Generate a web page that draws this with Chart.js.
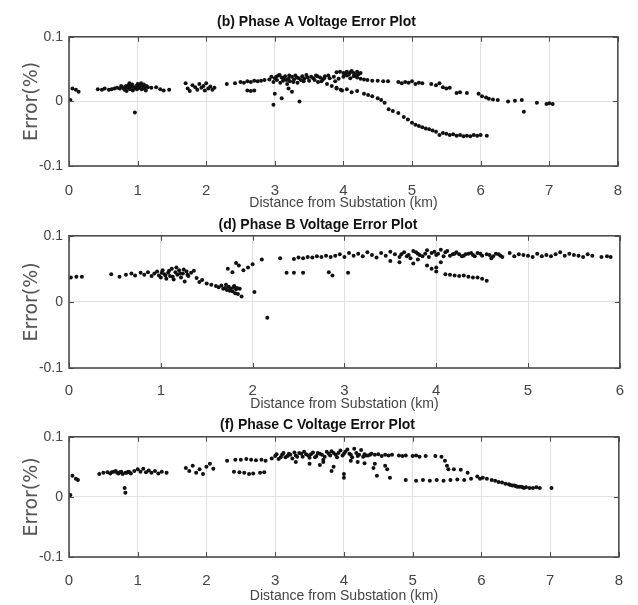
<!DOCTYPE html>
<html>
<head>
<meta charset="utf-8">
<script src="https://cdn.jsdelivr.net/npm/chart.js@4/dist/chart.umd.min.js"></script>
<style>
  body { margin: 0; background: #fff; }
  #wrap { position: relative; width: 638px; height: 605px; overflow: hidden; }
  canvas { position: absolute; left: 0; }
</style>
</head>
<body>
<div id="wrap">
  <canvas id="plotA" width="638" height="215" style="top:0px"></canvas>
  <canvas id="plotB" width="638" height="210" style="top:205px"></canvas>
  <canvas id="plotC" width="638" height="200" style="top:405px"></canvas>
</div>
<script>
// tick labels
var xTicksAC = [0, 1, 2, 3, 4, 5, 6, 7, 8];
var xTicksB = [0, 1, 2, 3, 4, 5, 6];
var yTicks = [-0.1, 0, 0.1];

// phase A (distance km, error %)
var phaseAx = [0.05,0.1,0.14,0.02,
  0.42,0.48,0.52,0.58,0.62,0.66,0.7,0.74,0.78,0.8,0.83,0.85,0.87,0.89,0.9,0.92,0.94,0.96,0.98,1.0,1.02,1.04,1.06,1.08,1.1,1.12,1.15,1.2,1.27,1.33,1.38,1.46,0.96,
  0.81,0.88,0.93,0.99,1.01,1.05,1.09,0.76,0.84,1.13,
  1.7,1.73,1.76,1.8,1.84,1.87,1.9,1.93,1.96,1.98,2.0,2.03,2.06,2.09,2.12,
  2.3,2.42,2.5,2.55,2.6,2.65,2.7,2.75,2.8,2.85,2.6,2.65,2.7,
  2.92,2.95,2.98,3.0,3.03,3.05,3.08,3.1,3.12,3.15,3.18,3.2,3.22,3.25,3.28,3.3,3.33,3.35,3.38,3.4,3.43,3.46,3.5,3.53,3.56,3.6,3.63,3.66,3.7,3.73,3.76,3.8,3.83,3.86,3.9,3.93,3.96,
  3.02,3.07,3.13,3.17,3.21,3.27,3.32,3.42,3.48,3.58,3.62,3.68,3.72,3.78,3.88,
  2.98,3.1,3.0,3.25,3.36,3.2,
  3.9,3.95,4.0,4.05,4.1,4.15,4.2,4.25,4.0,4.05,4.1,4.15,4.2,4.25,4.3,4.08,4.18,4.02,4.12,4.22,
  4.35,4.42,4.5,4.58,4.65,4.8,4.85,4.9,4.95,5.0,5.05,5.1,5.15,5.28,5.35,5.4,5.45,5.5,5.55,5.65,5.7,5.8,5.97,6.02,6.08,6.12,6.18,6.25,6.4,6.5,6.6,6.63,6.82,6.96,7.0,7.05,
  3.9,3.98,4.05,4.12,4.2,4.3,4.36,4.42,4.5,4.55,4.6,4.66,4.72,4.8,4.88,4.94,5.0,5.05,5.1,5.15,5.2,5.25,5.3,5.35,5.4,5.45,5.5,5.55,5.6,5.65,5.7,5.75,5.8,5.85,5.9,5.95,6.0,6.09];
var phaseAy = [0.02,0.018,0.015,0.002,
  0.019,0.018,0.02,0.018,0.019,0.02,0.021,0.02,0.022,0.02,0.024,0.021,0.025,0.019,0.023,0.026,0.022,0.02,0.024,0.027,0.021,0.025,0.019,0.023,0.02,0.017,0.022,0.021,0.022,0.019,0.017,0.018,-0.017,
  0.018,0.028,0.017,0.019,0.023,0.028,0.026,0.024,0.016,0.024,
  0.028,0.02,0.016,0.025,0.022,0.018,0.027,0.021,0.024,0.017,0.028,0.02,0.023,0.018,0.021,
  0.027,0.028,0.03,0.029,0.031,0.03,0.032,0.031,0.032,0.033,0.017,0.016,0.017,
  0.034,0.038,0.03,0.036,0.033,0.04,0.029,0.037,0.032,0.039,0.027,0.035,0.031,0.038,0.034,0.04,0.029,0.036,0.033,0.039,0.035,0.041,0.032,0.038,0.036,0.04,0.03,0.037,0.034,0.039,0.027,0.036,0.024,0.038,0.021,0.035,0.018,
  0.038,0.041,0.035,0.033,0.04,0.03,0.037,0.031,0.037,0.033,0.039,0.031,0.036,0.04,0.031,
  -0.005,0.005,0.012,0.015,0.0,0.02,
  0.045,0.046,0.044,0.046,0.045,0.044,0.046,0.044,0.038,0.04,0.036,0.039,0.037,0.035,0.034,0.042,0.041,0.043,0.047,0.042,
  0.033,0.032,0.032,0.031,0.031,0.03,0.028,0.03,0.029,0.031,0.027,0.029,0.028,0.027,0.025,0.028,0.022,0.02,0.021,0.013,0.014,0.013,0.012,0.008,0.006,0.004,0.003,0.002,0.0,0.001,0.002,-0.016,-0.002,-0.004,-0.003,-0.004,
  0.02,0.017,0.019,0.014,0.016,0.012,0.01,0.008,0.005,0.002,-0.002,-0.012,-0.015,-0.018,-0.024,-0.028,-0.033,-0.036,-0.038,-0.04,-0.042,-0.043,-0.045,-0.047,-0.052,-0.049,-0.05,-0.052,-0.051,-0.053,-0.052,-0.054,-0.053,-0.054,-0.052,-0.053,-0.052,-0.053];

// phase B
var phaseBx = [0.02,0.08,0.14,
  0.46,0.55,0.62,0.68,0.72,0.78,0.82,0.86,0.9,0.93,0.96,0.98,1.0,1.02,1.04,1.06,1.08,1.1,1.12,1.14,1.16,1.18,1.2,1.22,1.24,1.26,1.28,1.3,1.33,1.36,1.39,1.42,1.45,1.5,1.55,1.6,1.63,1.66,1.7,1.72,1.74,1.76,1.78,1.8,1.82,1.84,1.86,1.88,
  1.01,1.05,1.09,1.13,1.17,1.21,1.25,1.29,1.68,1.71,1.75,1.79,1.81,1.83,
  1.73,1.78,1.82,1.85,1.9,1.95,2.0,2.02,2.1,2.16,
  2.3,2.45,2.5,2.55,2.6,2.65,2.7,2.75,2.8,2.85,2.37,2.45,2.55,2.83,2.87,
  2.9,2.95,3.0,3.04,3.05,3.1,3.15,3.2,3.25,3.3,3.35,3.4,3.45,3.5,3.55,3.6,3.65,3.7,3.75,3.8,3.85,3.9,3.95,4.0,4.05,4.1,4.15,4.2,4.25,4.3,4.35,4.4,4.45,4.5,4.55,4.6,4.65,4.7,4.8,4.85,4.9,5.0,5.05,5.1,5.15,5.2,5.3,5.35,5.4,5.5,5.6,5.8,5.86,5.9,
  3.62,3.68,3.72,3.78,3.82,3.88,3.92,3.98,4.02,4.08,4.12,4.18,4.22,4.28,4.32,4.38,4.42,4.48,4.58,4.62,4.68,4.72,4.95,5.25,5.45,5.55,5.65,5.7,
  3.5,3.6,3.75,3.8,3.9,3.95,4.0,4.05,
  4.0,4.1,4.15,4.2,4.25,4.3,4.35,4.4,4.45,4.5,4.55];
var phaseBy = [0.037,0.038,0.038,
  0.042,0.038,0.041,0.043,0.04,0.044,0.041,0.045,0.039,0.043,0.046,0.04,0.037,0.048,0.042,0.035,0.044,0.039,0.05,0.034,0.045,0.041,0.048,0.037,0.043,0.031,0.046,0.039,0.044,0.047,0.036,0.03,0.033,0.028,0.026,0.024,0.022,0.025,0.021,0.018,0.023,0.02,0.016,0.024,0.019,0.012,0.02,0.008,
  0.044,0.04,0.047,0.038,0.052,0.043,0.049,0.041,0.02,0.026,0.017,0.022,0.013,0.021,
  0.05,0.045,0.059,0.055,0.048,0.052,0.057,0.015,0.064,-0.024,
  0.066,0.065,0.067,0.066,0.068,0.067,0.069,0.068,0.07,0.068,0.044,0.044,0.044,0.045,0.04,
  0.07,0.072,0.068,0.044,0.074,0.07,0.073,0.069,0.075,0.071,0.067,0.074,0.07,0.076,0.072,0.068,0.075,0.071,0.077,0.073,0.069,0.078,0.074,0.071,0.079,0.075,0.07,0.073,0.072,0.07,0.073,0.071,0.074,0.07,0.072,0.066,0.073,0.07,0.074,0.069,0.072,0.07,0.068,0.073,0.069,0.071,0.072,0.075,0.07,0.071,0.068,0.068,0.069,0.068,
  0.072,0.069,0.066,0.075,0.071,0.073,0.068,0.076,0.073,0.069,0.077,0.072,0.075,0.069,0.072,0.074,0.069,0.073,0.071,0.069,0.072,0.068,0.071,0.069,0.073,0.07,0.072,0.07,
  0.062,0.06,0.058,0.064,0.055,0.05,0.052,0.06,
  0.046,0.042,0.041,0.04,0.039,0.04,0.038,0.037,0.037,0.035,0.032];

// phase C
var phaseCx = [0.05,0.1,0.13,0.02,
  0.44,0.5,0.56,0.6,0.65,0.7,0.74,0.78,0.82,0.86,0.9,0.81,0.82,0.95,1.0,1.04,1.08,1.12,1.16,1.2,1.25,1.3,1.35,1.42,
  0.62,0.68,0.72,0.76,0.84,0.88,
  1.7,1.75,1.8,1.85,1.9,1.95,2.0,2.05,2.1,
  2.3,2.42,2.5,2.58,2.65,2.72,2.8,2.86,2.4,2.48,2.55,2.62,2.68,2.78,2.84,
  2.95,3.0,3.05,3.1,3.15,3.2,3.25,3.3,3.35,3.4,3.45,3.5,3.55,3.6,3.65,3.7,3.75,3.8,3.85,3.9,3.95,3.3,3.5,3.65,3.85,3.7,
  3.02,3.08,3.12,3.18,3.22,3.28,3.32,3.38,3.42,3.48,3.52,3.58,3.62,3.68,3.72,3.78,3.82,3.88,3.92,3.98,4.02,4.08,4.12,4.18,4.22,4.28,4.32,4.38,
  4.0,4.05,4.1,4.15,4.2,4.25,4.3,4.35,4.4,4.45,4.5,4.55,4.6,4.65,4.7,4.8,4.85,4.9,5.0,5.05,5.1,5.19,5.33,5.42,
  4.1,4.2,4.3,4.45,4.6,
  3.82,4.0,4.0,4.43,4.48,4.67,4.63,
  5.47,5.5,5.52,5.6,5.7,
  4.9,5.05,5.15,5.25,5.35,5.45,5.55,5.65,5.75,5.8,5.85,
  5.94,5.98,6.02,6.08,6.15,6.2,6.25,6.3,6.35,6.4,6.45,6.5,6.55,6.6,6.65,6.7,6.75,6.8,6.85,7.02,
  6.42,6.48,6.52,6.58,6.62];
var phaseCy = [0.035,0.03,0.028,0.003,
  0.038,0.04,0.041,0.039,0.042,0.04,0.041,0.038,0.04,0.042,0.039,0.015,0.007,0.043,0.046,0.042,0.047,0.041,0.044,0.04,0.043,0.039,0.042,0.04,
  0.041,0.043,0.039,0.042,0.04,0.041,
  0.048,0.043,0.052,0.04,0.046,0.038,0.05,0.055,0.047,
  0.06,0.062,0.062,0.063,0.062,0.061,0.062,0.06,0.042,0.041,0.04,0.038,0.039,0.04,0.041,
  0.064,0.068,0.063,0.07,0.066,0.072,0.064,0.069,0.073,0.067,0.071,0.065,0.074,0.068,0.072,0.062,0.075,0.069,0.073,0.066,0.077,0.058,0.055,0.053,0.05,0.058,
  0.071,0.066,0.073,0.068,0.07,0.074,0.067,0.072,0.075,0.069,0.071,0.066,0.073,0.07,0.067,0.072,0.076,0.07,0.073,0.069,0.075,0.072,0.066,0.073,0.07,0.067,0.069,0.07,
  0.072,0.079,0.07,0.08,0.068,0.078,0.071,0.069,0.072,0.07,0.071,0.068,0.07,0.069,0.07,0.069,0.068,0.069,0.068,0.069,0.067,0.068,0.068,0.067,
  0.06,0.058,0.056,0.055,0.052,
  0.043,0.038,0.032,0.048,0.035,0.032,0.046,
  0.06,0.052,0.046,0.046,0.045,
  0.028,0.027,0.028,0.027,0.028,0.027,0.028,0.029,0.028,0.04,0.03,
  0.034,0.03,0.032,0.03,0.028,0.027,0.025,0.024,0.022,0.021,0.019,0.018,0.017,0.016,0.016,0.015,0.015,0.016,0.015,0.015,
  0.02,0.019,0.017,0.017,0.015];

var sans = "'Liberation Sans', Arial, sans-serif";

// box round the plot and small ticks pointing inwards (matlab style)
var boxPlugin = {
  id: 'box',
  afterDraw: function (chart) {
    var ctx = chart.ctx, a = chart.chartArea;
    var xs = chart.scales.x, ys = chart.scales.y;
    ctx.save();
    ctx.strokeStyle = '#4d4d4d';
    ctx.lineWidth = 1;
    ctx.beginPath();
    xs.ticks.forEach(function (t) {
      var px = Math.round(xs.getPixelForValue(t.value)) + 0.5;
      ctx.moveTo(px, a.top); ctx.lineTo(px, a.top + 5);
      ctx.moveTo(px, a.bottom); ctx.lineTo(px, a.bottom - 5);
    });
    ys.ticks.forEach(function (t) {
      var py = Math.round(ys.getPixelForValue(t.value)) + 0.5;
      ctx.moveTo(a.left, py); ctx.lineTo(a.left + 5, py);
      ctx.moveTo(a.right, py); ctx.lineTo(a.right - 5, py);
    });
    ctx.stroke();
    ctx.lineWidth = 1.6;
    ctx.strokeRect(a.left, a.top, a.right - a.left, a.bottom - a.top);
    ctx.restore();
  }
};

function makePlot(id, title, xs, ys, xTicks, lay) {
  var pts = xs.map(function (x, i) { return {x: x, y: ys[i]}; });
  var ctx = document.getElementById(id).getContext('2d');
  return new Chart(ctx, {
    type: 'scatter',
    data: {
      datasets: [{
        data: pts,
        backgroundColor: '#111',
        borderWidth: 0,
        pointRadius: 2,
        pointHoverRadius: 2
      }]
    },
    options: {
      responsive: false,
      animation: false,
      events: [],
      layout: { padding: { left: 0, right: lay.right, top: 0, bottom: 0 } },
      plugins: {
        legend: { display: false },
        tooltip: { enabled: false },
        title: {
          display: true,
          text: title,
          color: '#111',
          font: { family: sans, size: 14, weight: 'bold', lineHeight: 1.2 },
          padding: { top: lay.titleTop, bottom: lay.titleBottom }
        }
      },
      scales: {
        x: {
          type: 'linear',
          min: xTicks[0],
          max: xTicks[xTicks.length - 1],
          afterBuildTicks: function (s) { s.ticks = xTicks.map(function (v) { return {value: v}; }); },
          afterFit: function (s) { s.height = lay.xHeight; },
          border: { display: false },
          grid: { color: '#e2e2e2', drawTicks: false },
          ticks: {
            padding: lay.tickPad,
            color: '#444',
            font: { family: sans, size: 15 },
            callback: function (v) { return String(v); }
          },
          title: {
            display: true,
            text: 'Distance from Substation (km)',
            color: '#444',
            font: { family: sans, size: 14, lineHeight: 1.2 },
            padding: { top: 0, bottom: lay.xTitleBottom }
          }
        },
        y: {
          type: 'linear',
          min: yTicks[0],
          max: yTicks[yTicks.length - 1],
          afterBuildTicks: function (s) { s.ticks = yTicks.map(function (v) { return {value: v}; }); },
          afterFit: function (s) { s.width = 69; },
          border: { display: false },
          grid: { color: '#e2e2e2', drawTicks: false },
          ticks: {
            padding: 6,
            color: '#444',
            font: { family: sans, size: 14 },
            callback: function (v) { return String(v); }
          },
          title: {
            display: true,
            text: 'Error(%)',
            color: '#555',
            font: { family: "'DejaVu Sans', sans-serif", size: 19, lineHeight: 1.2 },
            padding: { top: 21, bottom: 0 }
          }
        }
      }
    },
    plugins: [boxPlugin]
  });
}

makePlot('plotA', '(b) Phase A Voltage Error Plot', phaseAx, phaseAy, xTicksAC,
  { right: 5, titleTop: 14, titleBottom: 6, xHeight: 49, tickPad: 16, xTitleBottom: 3 });
makePlot('plotB', '(d) Phase B Voltage Error Plot', phaseBx, phaseBy, xTicksB,
  { right: 2, titleTop: 12, titleBottom: 2, xHeight: 47, tickPad: 14, xTitleBottom: 2 });
makePlot('plotC', '(f) Phase C Voltage Error Plot', phaseCx, phaseCy, xTicksAC,
  { right: 3, titleTop: 12, titleBottom: 3, xHeight: 48, tickPad: 15, xTitleBottom: 0 });
</script>
</body>
</html>
